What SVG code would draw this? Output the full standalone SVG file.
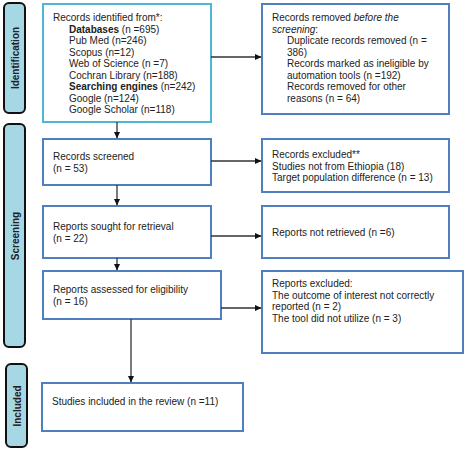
<svg xmlns="http://www.w3.org/2000/svg" width="465" height="450" viewBox="0 0 465 450">
<style>
text{font-family:"Liberation Sans",Arial,sans-serif;font-size:10px;fill:#222}
.side rect{fill:#a6d7e5;stroke:#111;stroke-width:2}
.side text{font-weight:bold;font-size:10px;text-anchor:middle}
.box{fill:#fff;stroke:#4f7fbf;stroke-width:2}
.box1{fill:#fff;stroke:#4fb6cf;stroke-width:2}
.b{font-weight:bold}
#connectors line{stroke:#333;stroke-width:1.3;marker-end:url(#ah)}
</style>
<defs>
<marker id="ah" markerWidth="7" markerHeight="7" refX="6" refY="3.5" orient="auto" markerUnits="userSpaceOnUse">
<path d="M0,0.5 L6.5,3.5 L0,6.5 Z" fill="#111"/>
</marker>
</defs>
<rect width="465" height="450" fill="#fff"/>
<g id="side-identification" class="side"><rect x="4" y="3" width="21" height="110" rx="5"/><text transform="translate(18.5,58) rotate(-90)">Identification</text></g>
<g id="side-screening" class="side"><rect x="4" y="124" width="21" height="223" rx="5"/><text transform="translate(18.5,236) rotate(-90)">Screening</text></g>
<g id="side-included" class="side"><rect x="6" y="364" width="21" height="83" rx="5"/><text transform="translate(20.5,406) rotate(-90)">Included</text></g>

<g id="identified"><rect class="box1" x="43" y="4" width="168" height="118"/>
<text x="53" y="21">Records identified from*:</text>
<text x="69" y="32.5"><tspan class="b">Databases</tspan> (n =695)</text>
<text x="69" y="44">Pub Med (n=246)</text>
<text x="69" y="55.5">Scopus (n=12)</text>
<text x="69" y="67">Web of Science (n =7)</text>
<text x="69" y="78.5">Cochran Library (n=188)</text>
<text x="69" y="90"><tspan class="b">Searching engines</tspan> (n=242)</text>
<text x="69" y="101.5">Google (n=124)</text>
<text x="69" y="113">Google Scholar (n=118)</text>
</g>
<g id="removed"><rect class="box" x="262" y="4" width="187" height="110"/>
<text x="272" y="21">Records removed <tspan font-style="italic">before the</tspan></text>
<text x="272" y="32.5"><tspan font-style="italic">screening</tspan>:</text>
<text x="287" y="44">Duplicate records removed (n =</text>
<text x="287" y="55.5">386)</text>
<text x="287" y="67">Records marked as ineligible by</text>
<text x="287" y="78.5">automation tools (n =192)</text>
<text x="287" y="90">Records removed for other</text>
<text x="287" y="101.5">reasons (n = 64)</text>
</g>
<g id="screened"><rect class="box" x="43" y="139" width="168" height="46"/>
<text x="53" y="160">Records screened</text>
<text x="53" y="172">(n = 53)</text>
</g>
<g id="excluded"><rect class="box" x="262" y="139" width="187" height="53"/>
<text x="272" y="158">Records excluded**</text>
<text x="272" y="169.5">Studies not from Ethiopia (18)</text>
<text x="272" y="181">Target population difference (n = 13)</text>
</g>
<g id="sought"><rect class="box" x="43" y="206" width="168" height="52"/>
<text x="53" y="230">Reports sought for retrieval</text>
<text x="53" y="242">(n = 22)</text>
</g>
<g id="notretrieved"><rect class="box" x="262" y="206" width="187" height="52"/>
<text x="272" y="236">Reports not retrieved (n =6)</text>
</g>
<g id="assessed"><rect class="box" x="43" y="271" width="178" height="48"/>
<text x="53" y="293">Reports assessed for eligibility</text>
<text x="53" y="305">(n = 16)</text>
</g>
<g id="reportsexcluded"><rect class="box" x="262" y="271" width="201" height="82"/>
<text x="272" y="287">Reports excluded:</text>
<text x="272" y="298.5">The outcome of interest not correctly</text>
<text x="272" y="310">reported (n = 2)</text>
<text x="272" y="321.5">The tool did not utilize (n = 3)</text>
</g>
<g id="included"><rect class="box" x="42" y="383" width="201" height="48"/>
<text x="52" y="405">Studies included in the review (n =11)</text>
</g>
<g id="connectors">
<line x1="211" y1="57" x2="261" y2="57"/>
<line x1="117" y1="122" x2="117" y2="138"/>
<line x1="211" y1="161" x2="261" y2="161"/>
<line x1="117" y1="185" x2="117" y2="205"/>
<line x1="211" y1="236" x2="261" y2="236"/>
<line x1="117" y1="258" x2="117" y2="270"/>
<line x1="221" y1="308" x2="261" y2="308"/>
<line x1="131" y1="319" x2="131" y2="382"/>
</g>
</svg>
